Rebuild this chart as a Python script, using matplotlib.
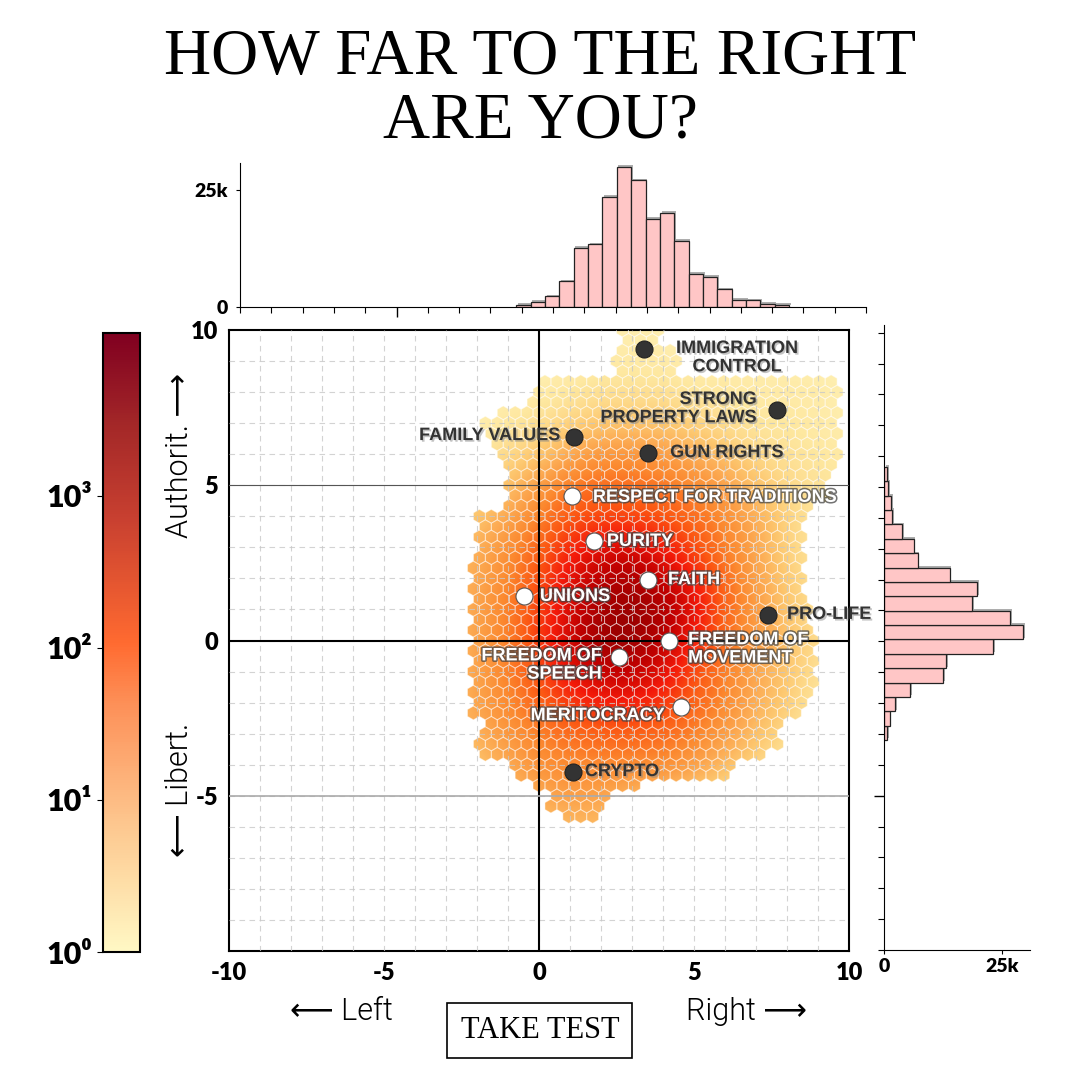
import numpy as np
import matplotlib
matplotlib.use("Agg")
import matplotlib.pyplot as plt
from matplotlib.colors import LogNorm, Normalize, LinearSegmentedColormap
from matplotlib.collections import PolyCollection
from matplotlib.path import Path
from matplotlib.patches import PathPatch, Rectangle
import matplotlib.patheffects as pe
import matplotlib.cm as cm

# ---------------- data ----------------
title_text = "HOW FAR TO THE RIGHT\nARE YOU?"
x_tick_values = [-10, -5, 0, 5, 10]
y_tick_values = [-5, 0, 5, 10]
cbar_tick_values = [1, 10, 100, 1000]
cbar_tick_labels = ["10⁰", "10¹", "10²", "10³"]
cbar_max = 10 ** 4.07

# marginal histograms (counts per bin)
top_hist_counts = [500, 1070, 2300, 5500, 12600, 13400, 23500, 30000, 27100, 18900,
                   20100, 14100, 7100, 6400, 3800, 1600, 1400, 700, 500]
top_hist_range = (-1.17, 7.54)
right_hist_counts = [630, 1200, 2400, 5500, 12500, 13200, 23100, 29400, 26700, 18600,
                     19700, 13900, 7100, 6300, 3800, 1700, 1500, 840, 630]
right_hist_range = (-3.2, 5.65)

# density (log10 of count) on a 1-unit grid, rows from y=10 down to y=-6
density_x = list(range(-3, 11))
density_y = list(range(10, -7, -1))
density_log10 = [
    [0.0, 0.0, 0.0, 0.0, 0.2, 0.3, 0.3, 0.3, 0.2, 0.0, 0.0, 0.0, 0.0, 0.0],
    [0.0, 0.0, 0.0, 0.2, 0.3, 0.4, 0.4, 0.4, 0.3, 0.3, 0.3, 0.3, 0.3, 0.2],
    [0.0, 0.2, 0.3, 0.4, 0.5, 0.6, 0.6, 0.6, 0.5, 0.5, 0.4, 0.4, 0.4, 0.3],
    [0.2, 0.3, 0.5, 0.6, 0.8, 1.0, 1.0, 1.0, 0.8, 0.6, 0.5, 0.5, 0.4, 0.3],
    [0.3, 0.5, 0.7, 1.0, 1.5, 1.8, 1.8, 1.7, 1.4, 1.1, 0.7, 0.6, 0.5, 0.4],
    [0.5, 0.8, 1.1, 1.7, 2.2, 2.3, 2.3, 2.2, 2.0, 1.6, 1.1, 0.7, 0.6, 0.5],
    [0.8, 1.0, 1.5, 2.1, 2.5, 2.6, 2.6, 2.5, 2.3, 1.9, 1.4, 0.8, 0.5, 0.4],
    [1.0, 1.4, 1.9, 2.4, 2.9, 3.2, 3.3, 3.0, 2.6, 2.1, 1.5, 0.8, 0.5, 0.4],
    [1.1, 1.5, 2.0, 2.6, 3.2, 3.6, 3.7, 3.5, 3.0, 2.3, 1.6, 0.9, 0.6, 0.4],
    [1.1, 1.6, 2.1, 2.7, 3.3, 3.8, 3.9, 3.7, 3.2, 2.4, 1.7, 1.0, 0.6, 0.4],
    [1.1, 1.6, 2.1, 2.8, 3.4, 3.9, 3.9, 3.6, 3.0, 2.3, 1.7, 1.1, 0.7, 0.4],
    [1.1, 1.6, 2.1, 2.6, 3.2, 3.5, 3.5, 3.2, 2.6, 2.1, 1.5, 1.0, 0.6, 0.4],
    [1.1, 1.6, 2.0, 2.4, 2.8, 3.0, 3.0, 2.8, 2.4, 2.0, 1.4, 0.9, 0.5, 0.4],
    [1.0, 1.4, 1.8, 2.1, 2.3, 2.4, 2.4, 2.3, 2.1, 1.7, 1.1, 0.7, 0.4, 0.3],
    [0.8, 1.1, 1.5, 1.9, 2.0, 2.0, 2.0, 2.0, 1.7, 1.2, 0.8, 0.5, 0.3, 0.2],
    [0.5, 0.9, 1.2, 1.5, 1.7, 1.6, 1.3, 1.1, 0.9, 0.6, 0.4, 0.3, 0.2, 0.2],
    [0.3, 0.6, 0.9, 1.1, 1.2, 1.2, 1.0, 0.8, 0.5, 0.4, 0.3, 0.2, 0.2, 0.2],
]

# occupied x-extent of the hexbin cloud per 0.5-unit row
extent_y = [9.75, 9.25, 8.75, 8.25, 7.75, 7.25, 6.75, 6.25, 5.75, 5.25, 4.75, 4.25,
            3.75, 3.25, 2.75, 2.25, 1.75, 1.25, 0.75, 0.25, -0.25, -0.75, -1.25,
            -1.75, -2.25, -2.75, -3.25, -3.75, -4.25, -4.75, -5.25, -5.75]
extent_left = [2.6, 2.6, 2.4, 0.0, -0.2, -1.4, -1.9, -1.7, -1.3, -1.0, -1.0, -1.3,
               -2.1, -2.1, -2.1, -2.2, -2.2, -2.2, -2.2, -2.2, -2.2, -2.2, -2.2,
               -2.2, -2.2, -1.9, -2.1, -2.1, -0.8, 0.0, 0.3, 0.7]
extent_right = [4.0, 4.4, 4.5, 9.7, 9.8, 9.8, 9.8, 9.8, 9.7, 9.3, 9.3, 9.0,
                8.6, 8.6, 8.6, 8.5, 8.5, 8.6, 8.8, 8.9, 8.9, 8.9, 8.9,
                8.8, 8.5, 8.0, 7.7, 7.3, 6.2, 3.3, 2.2, 1.8]

# statements (points)
statement_names = ["IMMIGRATION\nCONTROL", "STRONG\nPROPERTY LAWS", "FAMILY VALUES",
                   "GUN RIGHTS", "RESPECT FOR TRADITIONS", "PURITY", "FAITH", "UNIONS",
                   "PRO-LIFE", "FREEDOM OF\nMOVEMENT", "FREEDOM OF\nSPEECH",
                   "MERITOCRACY", "CRYPTO"]
statement_x = [3.39, 7.68, 1.13, 3.52, 1.06, 1.77, 3.52, -0.48, 7.39, 4.19, 2.58, 4.58, 1.10]
statement_y = [9.40, 7.41, 6.57, 6.05, 4.64, 3.19, 1.96, 1.42, 0.81, 0.00, -0.52, -2.13, -4.22]
statement_dark = [True, True, True, True, False, False, False, False, True, False, False,
                  False, True]

# label layout: (x, y, ha, multialign)
label_layout = [
    (6.39, 9.11, "center", "center"),
    (7.03, 7.47, "right", "right"),
    (0.68, 6.60, "right", "left"),
    (4.23, 6.05, "left", "left"),
    (1.74, 4.61, "left", "left"),
    (2.19, 3.19, "left", "left"),
    (4.16, 1.96, "left", "left"),
    (0.03, 1.42, "left", "left"),
    (8.00, 0.84, "left", "left"),
    (4.81, -0.27, "left", "left"),
    (2.03, -0.79, "right", "right"),
    (4.06, -2.42, "right", "right"),
    (1.48, -4.22, "left", "left"),
]

# ---------------- style ----------------
plt.rcParams["font.family"] = ["Lato", "DejaVu Sans"]
plt.rcParams["font.weight"] = "heavy"

W = H = 1080.0
fig = plt.figure(figsize=(10.8, 10.8), dpi=100)
fig.patch.set_facecolor("white")


def fig_rect(x0, y0, x1, y1):
    return [x0 / W, 1 - y1 / H, (x1 - x0) / W, (y1 - y0) / H]


ax = fig.add_axes(fig_rect(229, 330, 849, 951))
ax_top = fig.add_axes(fig_rect(240, 163, 866, 307))
ax_right = fig.add_axes(fig_rect(884, 325, 1030, 950))
cax = fig.add_axes(fig_rect(103, 333, 140, 952))

plot_cmap = LinearSegmentedColormap.from_list("plot", [
    (0.00, "#fff8c8"), (0.12, "#fee8a0"), (0.25, "#fdc870"), (0.37, "#fca850"),
    (0.49, "#fb8a30"), (0.61, "#fc5a14"), (0.74, "#f41a0a"), (0.86, "#c00000"),
    (1.00, "#880000")])
cbar_cmap = LinearSegmentedColormap.from_list("bar", [
    (0.00, "#fff8c4"), (0.20, "#fdc890"), (0.40, "#fd9058"), (0.50, "#ff6a30"),
    (0.70, "#c84030"), (0.85, "#a42828"), (1.00, "#800020")])
lognorm = LogNorm(vmin=1, vmax=cbar_max)

# ---- density as smooth image clipped to hexagon cells ----
nx, ny = 52, 30
sx, sy = 20.0 / nx, 20.0 / ny
gx1, gy1 = np.meshgrid(-10 + np.arange(nx + 1) * sx, -10 + np.arange(ny + 1) * sy)
gx2, gy2 = np.meshgrid(-10 + (np.arange(nx) + 0.5) * sx, -10 + (np.arange(ny) + 0.5) * sy)
cx = np.concatenate([gx1.ravel(), gx2.ravel()])
cy = np.concatenate([gy1.ravel(), gy2.ravel()])
ey = np.array(extent_y)
el = np.array(extent_left)
er = np.array(extent_right)
k = np.rint((ey[0] - cy) / 0.5).astype(int)
valid = (k >= 0) & (k < len(ey))
kk = np.clip(k, 0, len(ey) - 1)
occ = valid & (cx >= el[kk]) & (cx <= er[kk])

hexv = np.array([[.5, -.5], [.5, .5], [0., 1.], [-.5, .5], [-.5, -.5], [0., -1.]]) * [sx, sy / 3]
polys = [np.array([x0, y0]) + hexv for x0, y0 in zip(cx[occ], cy[occ])]
clip = Path.make_compound_path(*[Path(np.vstack([p, p[:1]]), closed=True) for p in polys])

dx0, dx1 = density_x[0] - 0.5, density_x[-1] + 0.5
dy0, dy1 = density_y[-1] - 0.5, density_y[0] + 0.5
im = ax.imshow(np.array(density_log10), extent=(dx0, dx1, dy0, dy1), origin="upper",
               cmap=plot_cmap, norm=Normalize(0, np.log10(cbar_max)),
               interpolation="bicubic", zorder=2, aspect="auto")
clip_patch = PathPatch(clip, transform=ax.transData, facecolor="none", edgecolor="none")
ax.add_patch(clip_patch)
im.set_clip_path(clip_patch)
hexes = PolyCollection(polys, facecolors="none", edgecolors=(1, 1, 1, 0.45),
                       linewidths=0.7, zorder=3)
ax.add_collection(hexes)

ax.set_xlim(-10, 10)
ax.set_ylim(-10, 10)

# grid
for v in range(-9, 10):
    ax.axvline(v, color="#c8c8c8", lw=0.8, ls=(0, (5, 4)), alpha=0.8, zorder=4)
    ax.axhline(v, color="#c8c8c8", lw=0.8, ls=(0, (5, 4)), alpha=0.8, zorder=4)
ax.axvline(0, color="black", lw=1.5, zorder=5)
ax.axhline(0, color="black", lw=1.5, zorder=5)
ax.axhline(5, color="#555555", lw=0.8, zorder=5)
ax.axhline(-5, color="#aaaaaa", lw=1.2, zorder=5)

ax.set_xticks(x_tick_values)
ax.set_xticklabels([str(v) for v in x_tick_values])
ax.set_yticks(y_tick_values)
ax.set_yticklabels([str(v) for v in y_tick_values])
ax.tick_params(length=0, labelsize=17, pad=8)
for s in ax.spines.values():
    s.set_linewidth(1.5)

# points
for i, name in enumerate(statement_names):
    dark = statement_dark[i]
    ax.scatter([statement_x[i]], [statement_y[i]], s=150,
               color="#333333" if dark else "white",
               edgecolor="#222222" if dark else "#555555", linewidth=0.8, zorder=6)
    lx, ly, ha, ma = label_layout[i]
    if dark:
        effects = [pe.SimplePatchShadow(offset=(1.2, -1.2), shadow_rgbFace="#888888", alpha=0.5),
                   pe.Normal()]
        col = "#333333"
    else:
        effects = [pe.Stroke(linewidth=2.2, foreground="#444444", alpha=0.75), pe.Normal()]
        col = "white"
    ax.text(lx, ly, name, ha=ha, va="center", multialignment=ma, fontsize=13,
            family=["Liberation Sans", "DejaVu Sans"], fontweight="bold", color=col,
            linespacing=1.1, zorder=7, path_effects=effects)

# ---- top histogram ----
bar_effects = [pe.SimplePatchShadow(offset=(1.2, 1.2), shadow_rgbFace="#777777", alpha=0.6),
               pe.Normal()]
te = np.linspace(top_hist_range[0], top_hist_range[1], len(top_hist_counts) + 1)
bars = ax_top.bar(te[:-1], top_hist_counts, width=np.diff(te), align="edge",
                  color="#ffc6c6", edgecolor="#222222", linewidth=0.9)
for b in bars:
    b.set_path_effects(bar_effects)
ax_top.set_xlim(-10, 10)
ax_top.set_ylim(0, 30800)
ax_top.spines["top"].set_visible(False)
ax_top.spines["right"].set_visible(False)
ax_top.set_yticks([0, 25000])
ax_top.set_yticklabels(["0", "25k"])
ax_top.set_xticks([-5])
ax_top.set_xticklabels([])
ax_top.set_xticks(range(-10, 11), minor=True)
ax_top.tick_params(axis="x", which="major", length=7, width=1)
ax_top.tick_params(axis="x", which="minor", length=4, width=0.8)
ax_top.tick_params(axis="y", length=3, labelsize=14, pad=6)

# ---- right histogram ----
re_ = np.linspace(right_hist_range[0], right_hist_range[1], len(right_hist_counts) + 1)
rbars = ax_right.barh(re_[:-1], right_hist_counts, height=np.diff(re_), align="edge",
                      color="#ffc6c6", edgecolor="#222222", linewidth=0.9)
for b in rbars:
    b.set_path_effects(bar_effects)
ax_right.set_ylim(-10, 10.25)
ax_right.set_xlim(0, 30900)
ax_right.spines["top"].set_visible(False)
ax_right.spines["right"].set_visible(False)
ax_right.set_xticks([0, 25000])
ax_right.set_xticklabels(["0", "25k"])
ax_right.set_yticks([-5])
ax_right.set_yticklabels([])
ax_right.set_yticks(range(-10, 11), minor=True)
ax_right.tick_params(axis="y", which="major", length=7, width=1)
ax_right.tick_params(axis="y", which="minor", length=4, width=0.8)
ax_right.tick_params(axis="x", length=3, labelsize=14, pad=3)

# ---- colorbar ----
sm = cm.ScalarMappable(norm=lognorm, cmap=cbar_cmap)
cb = fig.colorbar(sm, cax=cax)
cb.set_ticks(cbar_tick_values)
cb.set_ticklabels(cbar_tick_labels)
cb.minorticks_off()
cax.yaxis.set_ticks_position("left")
cax.yaxis.set_label_position("left")
cax.tick_params(labelsize=22, length=4, pad=4)
cb.outline.set_linewidth(1.5)

# ---- texts ----
fig.text(0.5, 1 - 90 / H, title_text, ha="center", va="center", multialignment="center",
         fontsize=47, linespacing=1.08,
         family=["Liberation Serif", "DejaVu Serif"], fontweight="normal")

# weight 330 -> Roboto Light for letters, DejaVu Sans Book for the long arrows
side_font = ["Roboto", "DejaVu Sans"]
side_weight = 330
fig.text(180 / W, 1 - 455 / H, "Authorit. ⟶", rotation=90, ha="center", va="center",
         fontsize=22, family=side_font, fontweight=side_weight)
fig.text(180 / W, 1 - 790 / H, "⟵ Libert.", rotation=90, ha="center", va="center",
         fontsize=22, family=side_font, fontweight=side_weight)
fig.text(341 / W, 1 - 1012 / H, "⟵ Left", ha="center", va="center",
         fontsize=22, family=side_font, fontweight=side_weight)
fig.text(746 / W, 1 - 1012 / H, "Right ⟶", ha="center", va="center",
         fontsize=22, family=side_font, fontweight=side_weight)

fig.patches.append(Rectangle((447 / W, 1 - 1058 / H), 185 / W, 55 / H, transform=fig.transFigure,
                             facecolor="white", edgecolor="black", linewidth=1.2))
fig.text(0.5, 1 - 1031 / H, "TAKE TEST", ha="center", va="center", fontsize=22,
         family=["Liberation Serif", "DejaVu Serif"], fontweight="normal")

fig.savefig("out.png", dpi=100)
